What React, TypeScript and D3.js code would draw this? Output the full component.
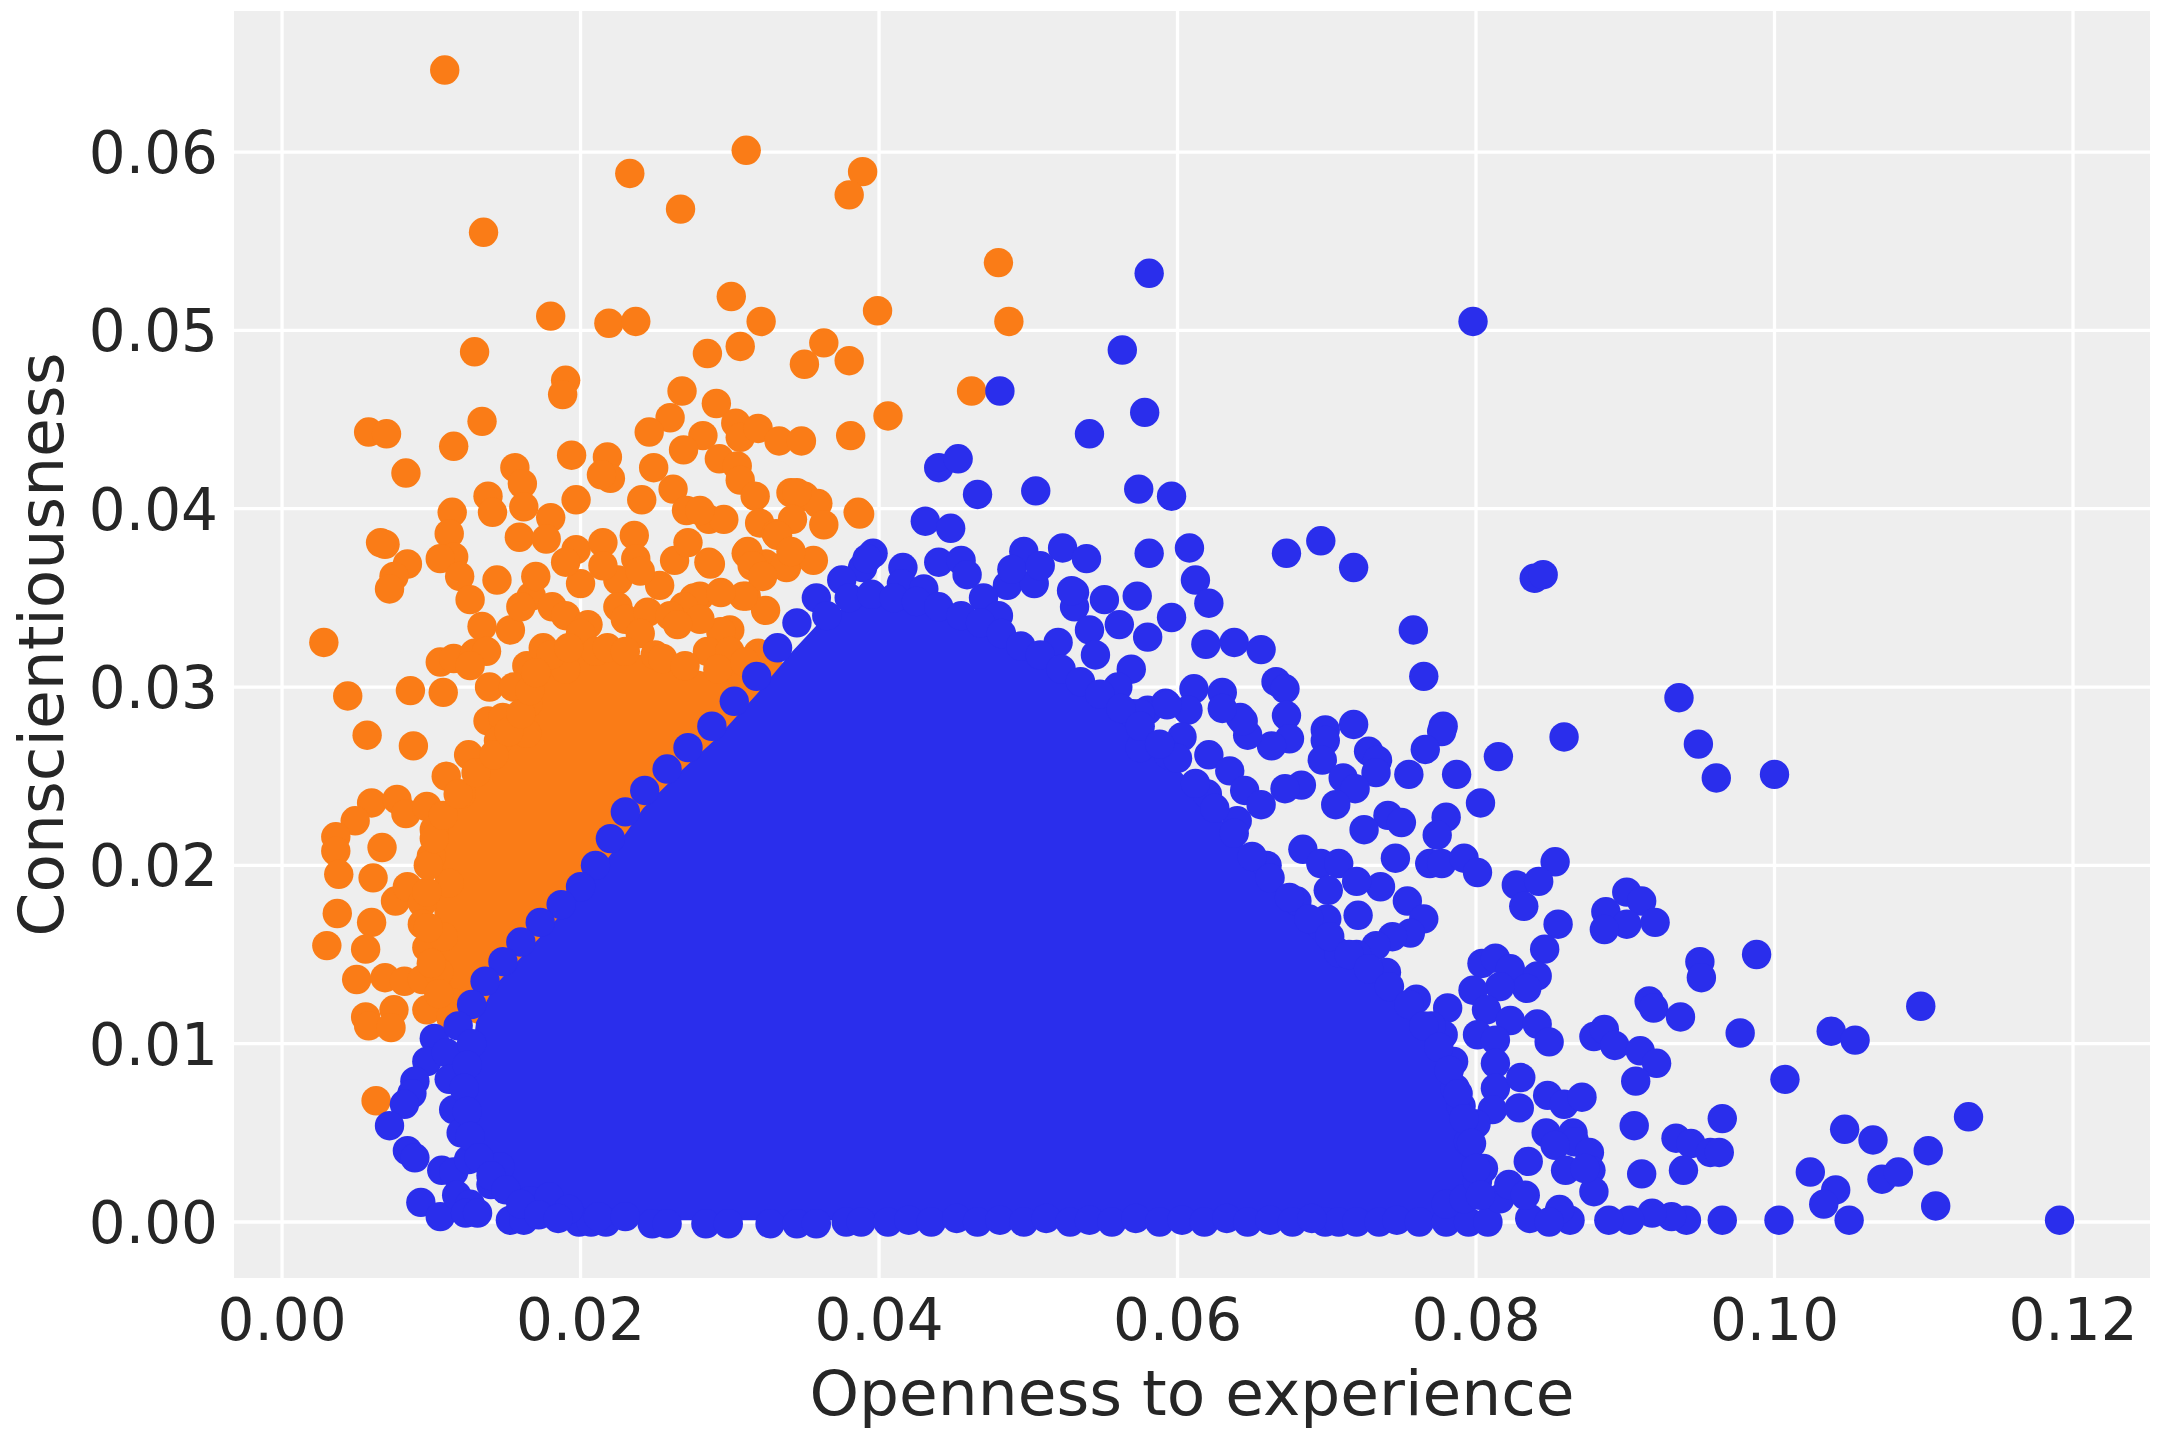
import * as d3 from "d3";

type Pt = [number, number];

const xTicks = [0, 0.02, 0.04, 0.06, 0.08, 0.1, 0.12];
const yTicks = [0, 0.01, 0.02, 0.03, 0.04, 0.05, 0.06];

// dense orange band (solid area under the dots)
const orangeCore: Pt[] = [
  [0.0118, 0.0115], [0.0105, 0.014], [0.0102, 0.0175], [0.0103, 0.0205],
  [0.0113, 0.0232], [0.0135, 0.0258], [0.016, 0.0288], [0.0175, 0.0312],
  [0.02, 0.0322], [0.024, 0.0318], [0.0285, 0.0308], [0.0325, 0.0318],
  [0.0345, 0.031], [0.03, 0.025], [0.02, 0.016], [0.015, 0.0105],
];

const orangePoints: Pt[] = [
  [0.0109, 0.0646], [0.0311, 0.0601], [0.0233, 0.0588], [0.0389, 0.0589], [0.038, 0.0576],
  [0.0267, 0.0568], [0.0135, 0.0555], [0.048, 0.0538], [0.0301, 0.0519], [0.0399, 0.0511],
  [0.018, 0.0508], [0.0219, 0.0504], [0.0237, 0.0505], [0.0321, 0.0505], [0.0487, 0.0505],
  [0.0129, 0.0488], [0.0307, 0.0491], [0.0285, 0.0487], [0.0363, 0.0493], [0.035, 0.0481],
  [0.038, 0.0483], [0.019, 0.0472], [0.0188, 0.0464], [0.0268, 0.0466], [0.0462, 0.0466],
  [0.0291, 0.0459], [0.0406, 0.0452], [0.0134, 0.0449], [0.026, 0.0451], [0.0058, 0.0443],
  [0.007, 0.0442], [0.0115, 0.0435], [0.0246, 0.0443], [0.0282, 0.0441], [0.0304, 0.0448],
  [0.0307, 0.044], [0.0319, 0.0445], [0.0333, 0.0438], [0.0348, 0.0438], [0.0381, 0.0441],
  [0.0269, 0.0433], [0.0083, 0.042], [0.0156, 0.0423], [0.0161, 0.0414], [0.0162, 0.0401],
  [0.0194, 0.043], [0.0218, 0.0429], [0.022, 0.0417], [0.0214, 0.0419], [0.0249, 0.0423],
  [0.0262, 0.0411], [0.0293, 0.0428], [0.0305, 0.0424], [0.0307, 0.0416], [0.0317, 0.0407],
  [0.0241, 0.0405], [0.0197, 0.0405], [0.0138, 0.0407], [0.0141, 0.0398], [0.0271, 0.0399],
  [0.0286, 0.0394], [0.0296, 0.0394], [0.0386, 0.0398], [0.0341, 0.0409], [0.035, 0.0407],
  [0.0359, 0.0403], [0.0363, 0.0391], [0.0387, 0.0397], [0.028, 0.0399], [0.032, 0.0392],
  [0.0331, 0.0386], [0.0287, 0.0369], [0.0311, 0.0375], [0.0324, 0.0369], [0.0338, 0.0367],
  [0.0356, 0.0371], [0.0311, 0.0351], [0.0324, 0.0343], [0.03, 0.0332], [0.0319, 0.0319],
  [0.0305, 0.0309], [0.028, 0.0351], [0.0345, 0.0409], [0.0342, 0.0394], [0.0332, 0.0385],
  [0.0114, 0.0398], [0.0112, 0.0386], [0.0115, 0.0373], [0.0106, 0.0372], [0.0069, 0.038],
  [0.0084, 0.0369], [0.0075, 0.0362], [0.0072, 0.0355], [0.0159, 0.0384], [0.018, 0.0395],
  [0.0177, 0.0383], [0.0197, 0.0377], [0.0215, 0.0381], [0.0236, 0.0385], [0.0237, 0.0372],
  [0.0263, 0.0371], [0.0272, 0.0381], [0.0286, 0.037], [0.0312, 0.0376], [0.0315, 0.0368],
  [0.0337, 0.0368], [0.0341, 0.0376], [0.0322, 0.0362], [0.0309, 0.0351], [0.0119, 0.0362],
  [0.0126, 0.0349], [0.0144, 0.036], [0.0134, 0.0334], [0.0153, 0.0332], [0.0167, 0.0351],
  [0.0181, 0.0345], [0.02, 0.0358], [0.0225, 0.036], [0.0225, 0.0345], [0.0253, 0.0357],
  [0.0276, 0.035], [0.0269, 0.0345], [0.0294, 0.0353], [0.0294, 0.0331], [0.016, 0.0345],
  [0.019, 0.034], [0.0205, 0.0335], [0.023, 0.0338], [0.0245, 0.0342], [0.026, 0.034],
  [0.028, 0.0338], [0.024, 0.0365], [0.0215, 0.0368], [0.019, 0.037], [0.017, 0.0362],
  [0.0028, 0.0325], [0.0044, 0.0295], [0.0057, 0.0273], [0.0086, 0.0298], [0.0088, 0.0267],
  [0.0108, 0.0297], [0.0106, 0.0314], [0.0115, 0.0316], [0.0129, 0.0319], [0.0137, 0.032],
  [0.0126, 0.0312], [0.0139, 0.03], [0.0164, 0.0312], [0.0165, 0.0291], [0.0138, 0.0281],
  [0.0148, 0.0283], [0.0164, 0.0274], [0.006, 0.0235], [0.0077, 0.0237], [0.0049, 0.0225],
  [0.0036, 0.0216], [0.0036, 0.0208], [0.0067, 0.021], [0.0083, 0.0229], [0.0097, 0.0233],
  [0.0038, 0.0195], [0.0061, 0.0193], [0.0066, 0.0381], [0.0037, 0.0173], [0.006, 0.0168],
  [0.003, 0.0155], [0.0056, 0.0153], [0.005, 0.0136], [0.0069, 0.0137], [0.0082, 0.0135],
  [0.0094, 0.0136], [0.0056, 0.0115], [0.0058, 0.011], [0.0075, 0.0119], [0.0073, 0.0109],
  [0.0063, 0.0068], [0.0076, 0.018], [0.0084, 0.0188], [0.0094, 0.0179], [0.0094, 0.0167],
  [0.0097, 0.0154], [0.0097, 0.0119], [0.0114, 0.0123], [0.01, 0.0205], [0.0102, 0.022],
  [0.011, 0.025], [0.0125, 0.0262], [0.0155, 0.03], [0.0175, 0.0322], [0.02, 0.033],
  [0.024, 0.033], [0.0265, 0.0335], [0.0285, 0.032], [0.0105, 0.014], [0.0108, 0.016],
  [0.0112, 0.019], [0.012, 0.024], [0.0145, 0.027], [0.019, 0.031], [0.021, 0.032],
  [0.025, 0.0318], [0.03, 0.032],
  // rim of the dense band
  [0.018, 0.0318], [0.0192, 0.0322], [0.0218, 0.0322], [0.023, 0.032], [0.0255, 0.0316],
  [0.027, 0.0312], [0.0292, 0.031], [0.031, 0.0314], [0.0113, 0.0115], [0.0105, 0.0128],
  [0.01, 0.0145], [0.0098, 0.0165], [0.0097, 0.0185], [0.0098, 0.02], [0.0102, 0.0215],
  [0.0108, 0.0228], [0.0118, 0.024], [0.013, 0.0252], [0.0142, 0.0262], [0.0152, 0.0275],
  [0.016, 0.0285], [0.0166, 0.0298], [0.017, 0.0308],
];

// solid blue mass (area under the dots)
const blueCore: Pt[] = [
  [0.019, 0.0001], [0.08, 0.0001], [0.0795, 0.004], [0.0785, 0.007], [0.077, 0.01],
  [0.075, 0.0125], [0.0725, 0.0145], [0.07, 0.016], [0.067, 0.0185], [0.064, 0.0215],
  [0.061, 0.0245], [0.0585, 0.0268], [0.056, 0.0288], [0.053, 0.0305], [0.0495, 0.0322],
  [0.046, 0.0338], [0.042, 0.0347], [0.0385, 0.0348], [0.0362, 0.0338], [0.0342, 0.032],
  [0.0318, 0.0296], [0.0292, 0.0272], [0.0266, 0.0252], [0.0242, 0.0232], [0.0222, 0.0208],
  [0.0203, 0.0187], [0.0182, 0.0168], [0.0162, 0.015], [0.0142, 0.0132], [0.013, 0.0112],
  [0.0126, 0.0085], [0.0127, 0.0055], [0.014, 0.003], [0.016, 0.0012],
];

const bluePoints: Pt[] = [
  [0.0581, 0.0532], [0.0798, 0.0505], [0.0563, 0.0489], [0.0481, 0.0466], [0.0578, 0.0454],
  [0.0541, 0.0442], [0.044, 0.0423], [0.0453, 0.0428], [0.0466, 0.0408], [0.0505, 0.041],
  [0.0574, 0.0411], [0.0596, 0.0407], [0.0431, 0.0393], [0.0448, 0.0389], [0.0673, 0.0375],
  [0.0696, 0.0382], [0.0718, 0.0367], [0.0758, 0.0332], [0.0765, 0.0306], [0.0396, 0.0375],
  [0.0389, 0.0367], [0.0416, 0.0367], [0.044, 0.037], [0.0455, 0.0371], [0.0459, 0.0363],
  [0.0497, 0.0376], [0.0523, 0.0378], [0.0539, 0.0372], [0.0581, 0.0375], [0.0608, 0.0378],
  [0.0612, 0.036], [0.0621, 0.0347], [0.0596, 0.0339], [0.058, 0.0328], [0.0573, 0.0351],
  [0.0561, 0.0335], [0.0551, 0.0349], [0.0531, 0.0353], [0.0531, 0.0345], [0.0541, 0.0332],
  [0.0486, 0.0357], [0.0504, 0.0358], [0.0489, 0.0366], [0.0508, 0.0368], [0.0619, 0.0324],
  [0.0638, 0.0325], [0.0656, 0.0321], [0.0611, 0.0299], [0.063, 0.0297], [0.0666, 0.0303],
  [0.0672, 0.0299], [0.0673, 0.0284], [0.0718, 0.0279], [0.0699, 0.0276], [0.0778, 0.0278],
  [0.0569, 0.031], [0.057, 0.0285], [0.058, 0.0287], [0.0592, 0.0291], [0.0607, 0.0287],
  [0.0642, 0.0283], [0.0839, 0.0361], [0.0845, 0.0363], [0.0529, 0.0354],
  [0.0936, 0.0294], [0.0949, 0.0268], [0.0961, 0.0249], [0.1, 0.0251], [0.0859, 0.0272],
  [0.0815, 0.0261], [0.0777, 0.0275], [0.0766, 0.0265], [0.0787, 0.0251], [0.0755, 0.0251],
  [0.0803, 0.0235], [0.078, 0.0227], [0.0774, 0.0217], [0.0741, 0.0228], [0.075, 0.0224],
  [0.0725, 0.022], [0.0728, 0.0264], [0.0734, 0.0259], [0.0733, 0.0252], [0.0699, 0.027],
  [0.0697, 0.0259], [0.0711, 0.0249], [0.0719, 0.0243], [0.0706, 0.0234], [0.0683, 0.0245],
  [0.0672, 0.0243], [0.0675, 0.0271], [0.0663, 0.0267], [0.0647, 0.0273], [0.0644, 0.0281],
  [0.063, 0.0288], [0.0593, 0.029], [0.0575, 0.0285], [0.0603, 0.0272], [0.0575, 0.0266],
  [0.0594, 0.0262], [0.0621, 0.0262], [0.0635, 0.0253], [0.0645, 0.0242], [0.0656, 0.0234],
  [0.0684, 0.0209], [0.0696, 0.0201], [0.0708, 0.0201], [0.0746, 0.0204], [0.0736, 0.0188],
  [0.072, 0.0191], [0.0701, 0.0186], [0.0754, 0.018], [0.0765, 0.017], [0.0756, 0.0162],
  [0.0744, 0.016], [0.0733, 0.0155], [0.0721, 0.0172], [0.0708, 0.0151], [0.0696, 0.0166],
  [0.0769, 0.0201], [0.0777, 0.0201], [0.0792, 0.0204], [0.0801, 0.0196], [0.0853, 0.0202],
  [0.0827, 0.0189], [0.0842, 0.0191], [0.0832, 0.0177], [0.0855, 0.0167], [0.0846, 0.0153],
  [0.0887, 0.0174], [0.0901, 0.0185], [0.0911, 0.018], [0.0901, 0.0167], [0.092, 0.0168],
  [0.0886, 0.0164], [0.095, 0.0146], [0.0951, 0.0137], [0.0988, 0.015], [0.0804, 0.0145],
  [0.0813, 0.0148], [0.0823, 0.0142], [0.0841, 0.0138], [0.0834, 0.0131], [0.0816, 0.0132],
  [0.0798, 0.013], [0.0807, 0.0119], [0.0781, 0.012], [0.0778, 0.0105], [0.0823, 0.0113],
  [0.0841, 0.0111], [0.0849, 0.0101], [0.0916, 0.0124], [0.0919, 0.012], [0.0937, 0.0115],
  [0.0977, 0.0106], [0.0879, 0.0104], [0.0886, 0.0108], [0.0893, 0.0099], [0.091, 0.0096],
  [0.0921, 0.0089], [0.0907, 0.0079], [0.0801, 0.0105], [0.0813, 0.0102], [0.0813, 0.0089],
  [0.0813, 0.0075], [0.083, 0.0081], [0.0848, 0.0071], [0.0859, 0.0066], [0.0871, 0.007],
  [0.0786, 0.0075], [0.0811, 0.0063], [0.0829, 0.0064], [0.0847, 0.005], [0.0865, 0.005],
  [0.0866, 0.0045], [0.0853, 0.0043], [0.0876, 0.0039], [0.0835, 0.0034], [0.0877, 0.0029],
  [0.086, 0.0029], [0.0906, 0.0054], [0.0965, 0.0058], [0.0934, 0.0047], [0.0944, 0.0044],
  [0.0957, 0.0039], [0.0963, 0.0039], [0.0911, 0.0027], [0.0939, 0.0029], [0.1047, 0.0052],
  [0.1066, 0.0046], [0.113, 0.0059], [0.1103, 0.004], [0.1024, 0.0028], [0.1041, 0.0018],
  [0.1033, 0.001], [0.1072, 0.0024], [0.1083, 0.0028], [0.1108, 0.0009], [0.105, 0.0001],
  [0.1003, 0.0001], [0.0965, 0.0001], [0.1191, 0.0001], [0.0941, 0.0001], [0.0931, 0.0003],
  [0.0918, 0.0005], [0.0903, 0.0001], [0.0889, 0.0001], [0.0879, 0.0017], [0.0873, 0.003],
  [0.0863, 0.0001], [0.0856, 0.0007], [0.1098, 0.0121], [0.1038, 0.0107], [0.1054, 0.0102],
  [0.1007, 0.008], [0.0836, 0.0002], [0.0849, 0.0], [0.0699, 0.0], [0.0708, 0.0],
  [0.072, 0.0], [0.0735, 0.0], [0.0747, 0.0001], [0.0762, 0.0], [0.078, 0.0], [0.0795, 0.0],
  [0.0808, 0.0], [0.078, 0.001], [0.0792, 0.0013], [0.0801, 0.0023], [0.0816, 0.0013],
  [0.0822, 0.0021], [0.0833, 0.0015],
  [0.0102, 0.0103], [0.0097, 0.009], [0.0089, 0.0079], [0.0087, 0.0072], [0.0082, 0.0066],
  [0.0072, 0.0054], [0.0084, 0.004], [0.0089, 0.0036], [0.0107, 0.0029], [0.0115, 0.0028],
  [0.0093, 0.0011], [0.0106, 0.0003], [0.0117, 0.0015], [0.0126, 0.001], [0.0123, 0.0005],
  [0.0131, 0.0005], [0.0153, 0.0001], [0.0162, 0.0001], [0.0199, 0.0], [0.0207, 0.0],
  [0.0217, 0.0], [0.0248, -0.0001], [0.0258, -0.0001], [0.0284, -0.0001], [0.0299, -0.0001],
  [0.0327, -0.0001], [0.0345, -0.0001], [0.0358, -0.0001], [0.0378, 0.0], [0.0388, 0.0],
  [0.0406, 0.0], [0.0115, 0.0063], [0.012, 0.005], [0.0146, 0.0031], [0.014, 0.0021],
  [0.0166, 0.0012], [0.0179, 0.0014], [0.0192, 0.0007], [0.0212, 0.0003], [0.023, 0.0003],
  [0.011, 0.0095], [0.0112, 0.008], [0.0125, 0.0035],
  [0.042, 0.0001], [0.0435, 0.0], [0.0452, 0.0002], [0.0466, 0.0], [0.0481, 0.0001],
  [0.0497, 0.0], [0.0512, 0.0002], [0.0528, 0.0], [0.0541, 0.0001], [0.0556, 0.0],
  [0.0572, 0.0002], [0.0588, 0.0], [0.0603, 0.0001], [0.0618, 0.0], [0.0633, 0.0002],
  [0.0647, 0.0], [0.0662, 0.0001], [0.0677, 0.0], [0.069, 0.0002],
  [0.0392, 0.0372], [0.0375, 0.036], [0.0358, 0.035], [0.0345, 0.0336], [0.0332, 0.0322],
  [0.0318, 0.0306], [0.0303, 0.0292], [0.0288, 0.0278], [0.0272, 0.0266], [0.0258, 0.0254],
  [0.0243, 0.0242], [0.023, 0.023], [0.022, 0.0215], [0.021, 0.02], [0.02, 0.0188],
  [0.0187, 0.0178], [0.0173, 0.0168], [0.016, 0.0157], [0.0148, 0.0146], [0.0136, 0.0135],
  [0.0127, 0.0122], [0.0118, 0.011], [0.0365, 0.034], [0.0415, 0.0358], [0.043, 0.0355],
  [0.047, 0.035], [0.048, 0.034], [0.052, 0.0325], [0.0545, 0.0318], [0.056, 0.03],
  [0.06, 0.026], [0.062, 0.024], [0.064, 0.0225], [0.066, 0.02], [0.068, 0.018],
  [0.07, 0.017], [0.072, 0.015], [0.074, 0.014], [0.076, 0.0125], [0.077, 0.011],
  [0.0785, 0.009], [0.079, 0.0065], [0.0795, 0.0045], [0.0805, 0.003], [0.08, 0.0055],
  // rim of the solid mass
  [0.038, 0.035], [0.0395, 0.0352], [0.041, 0.035], [0.0425, 0.0348], [0.044, 0.0345],
  [0.0455, 0.034], [0.0468, 0.0336], [0.0482, 0.033], [0.0495, 0.0323], [0.0508, 0.0318],
  [0.0522, 0.031], [0.0535, 0.0303], [0.0548, 0.0296], [0.0562, 0.0288], [0.0575, 0.0278],
  [0.0588, 0.0268], [0.0612, 0.0246], [0.0625, 0.0232], [0.0638, 0.0218], [0.065, 0.0205],
  [0.0662, 0.0193], [0.0675, 0.0182], [0.0688, 0.017], [0.0702, 0.016], [0.0715, 0.015],
  [0.0728, 0.0142], [0.0742, 0.0132], [0.0755, 0.0122], [0.0765, 0.011], [0.0775, 0.0098],
  [0.0782, 0.0085], [0.0788, 0.0072], [0.0792, 0.0058], [0.0797, 0.0044], [0.08, 0.003],
  [0.0803, 0.0015], [0.0127, 0.01], [0.0124, 0.0088], [0.0122, 0.0075], [0.0124, 0.0062],
  [0.0126, 0.0048], [0.0132, 0.0036], [0.014, 0.0026], [0.015, 0.0018], [0.016, 0.001],
  [0.0172, 0.0004], [0.0185, 0.0002],
];

const ORANGE = "#fa7c17";
const BLUE = "#2a2eec";
const FONT = "DejaVu Sans";

export default function App() {
  const W = 2160;
  const H = 1440;
  const left = 234, right = 2150, top = 11, bottom = 1278;

  const x = d3.scaleLinear().domain([-0.00322, 0.12516]).range([left, right]);
  const y = d3.scaleLinear().domain([-0.00314, 0.06791]).range([bottom, top]);

  const shape = d3.line<Pt>()
    .x((d) => x(d[0]))
    .y((d) => y(d[1]))
    .curve(d3.curveLinearClosed);

  const r = 14.7;

  return (
    <svg
      width={W}
      height={H}
      style={{ position: "absolute", left: 0, top: 0, background: "#fff" }}
    >
      <defs>
        <clipPath id="plot">
          <rect x={left} y={top} width={right - left} height={bottom - top} />
        </clipPath>
      </defs>
      <rect x={left} y={top} width={right - left} height={bottom - top} fill="#eeeeee" />
      {xTicks.map((t) => (
        <line key={`gx${t}`} x1={x(t)} x2={x(t)} y1={top} y2={bottom} stroke="#fff" strokeWidth={3.3} />
      ))}
      {yTicks.map((t) => (
        <line key={`gy${t}`} x1={left} x2={right} y1={y(t)} y2={y(t)} stroke="#fff" strokeWidth={3.3} />
      ))}
      <g clipPath="url(#plot)">
        <path d={shape(orangeCore) ?? ""} fill={ORANGE} />
        {orangePoints.map((d, i) => (
          <circle key={`o${i}`} cx={x(d[0])} cy={y(d[1])} r={r} fill={ORANGE} />
        ))}
        <path d={shape(blueCore) ?? ""} fill={BLUE} />
        {bluePoints.map((d, i) => (
          <circle key={`b${i}`} cx={x(d[0])} cy={y(d[1])} r={r} fill={BLUE} />
        ))}
      </g>
      <g fontFamily={FONT} fontSize={58} fill="#262626">
        {xTicks.map((t) => (
          <text key={`tx${t}`} x={x(t)} y={1340} textAnchor="middle">
            {d3.format(".2f")(t)}
          </text>
        ))}
        {yTicks.map((t) => (
          <text key={`ty${t}`} x={218} y={y(t) + 21} textAnchor="end">
            {d3.format(".2f")(t)}
          </text>
        ))}
      </g>
      <g fontFamily={FONT} fontSize={63} fill="#262626">
        <text x={(left + right) / 2} y={1415} textAnchor="middle">
          Openness to experience
        </text>
        <text transform={`translate(63, ${(top + bottom) / 2}) rotate(-90)`} textAnchor="middle">
          Conscientiousness
        </text>
      </g>
    </svg>
  );
}
